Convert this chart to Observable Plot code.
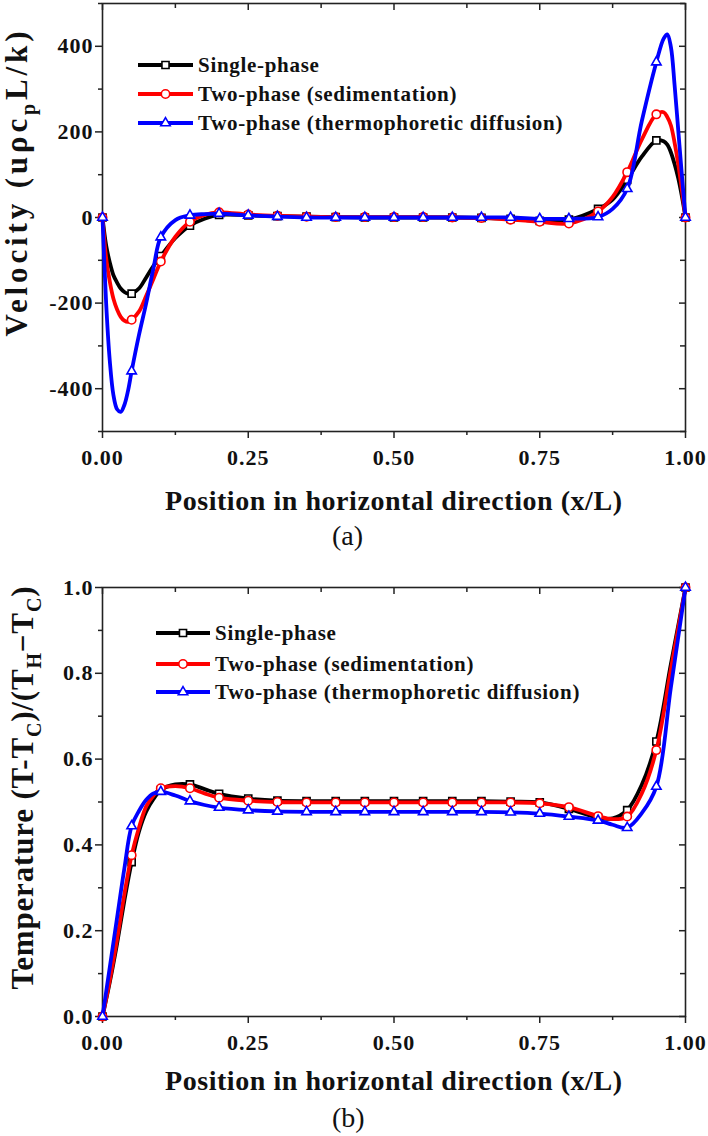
<!DOCTYPE html>
<html>
<head>
<meta charset="utf-8">
<script src="https://cdn.jsdelivr.net/npm/d3@7"></script>
<script src="https://cdn.jsdelivr.net/npm/@observablehq/plot@0.6"></script>
<style>
  html, body { margin: 0; padding: 0; background: #fff; }
  body { width: 708px; height: 1136px; overflow: hidden; font-family: "Liberation Serif", serif; color: #111; }
  .cap { font-size: 28px; font-weight: normal; white-space: nowrap; font-family: "Liberation Serif", serif; }
  svg text { font-family: "Liberation Serif", serif; }
</style>
</head>
<body>
<div id="panelA"></div>
<div class="cap" id="capA" style="height:32px;line-height:32px;padding-left:332px;">(a)</div>
<div id="panelB"></div>
<div class="cap" id="capB" style="height:36px;line-height:36px;padding-left:332px;">(b)</div>
<script>
// ---------------- data ----------------
const seriesNames = ["Single-phase", "Two-phase (sedimentation)", "Two-phase (thermophoretic diffusion)"];
const seriesColors = ["#000000", "#ff0000", "#0000ff"];
const seriesSymbols = ["square", "circle", "triangle"];

// (a) velocity profiles
const xVel = [0, 0.00625, 0.0125, 0.01875, 0.025, 0.03125, 0.0375, 0.04375, 0.05, 0.0625, 0.075, 0.0875, 0.1,
  0.125, 0.15, 0.175, 0.2, 0.25, 0.3, 0.35, 0.4, 0.45, 0.5, 0.55, 0.6, 0.65, 0.7, 0.75, 0.8, 0.85, 0.875,
  0.9, 0.925, 0.95, 0.9625, 0.96875, 0.975, 0.98125, 0.9875, 0.99375, 1.0];
const velSingle = [0, -65, -105, -135, -152, -166, -174, -178, -178, -166, -140, -113, -90,
  -48, -19, -3, 6, 5, 3, 2, 1, 0, 0, 0, 0, -1, -3, -8, -5, 20, 42,
  88, 142, 180, 178, 170, 152, 125, 92, 50, 0];
const velSed = [0, -95, -150, -190, -215, -232, -241, -244, -239, -220, -183, -143, -103,
  -45, -10, 6, 12, 7, 4, 2, 1, 1, 1, 1, 0, -1, -5, -10, -14, 14, 48,
  106, 182, 241, 246, 235, 215, 175, 125, 65, 0];
const velThermo = [0, -200, -335, -415, -448, -454, -438, -405, -359, -275, -200, -118, -46,
  -6, 5, 8, 9, 5, 2, 0, 0, 0, 0, 0, 0, 0, 0, -3, -3, 1, 20,
  67, 225, 363, 418, 428, 398, 310, 205, 100, 0];

// (b) temperature profiles
const xTemp = [0, 0.0125, 0.025, 0.0375, 0.05, 0.0625, 0.075, 0.0875, 0.1, 0.125, 0.15, 0.175, 0.2,
  0.25, 0.3, 0.35, 0.4, 0.45, 0.5, 0.55, 0.6, 0.65, 0.7, 0.75, 0.8, 0.85, 0.875, 0.9, 0.925, 0.95, 0.975, 1.0];
const tempSingle = [0, 0.08, 0.17, 0.27, 0.36, 0.431, 0.478, 0.507, 0.528, 0.541, 0.541, 0.53, 0.519,
  0.508, 0.503, 0.502, 0.502, 0.502, 0.502, 0.502, 0.502, 0.502, 0.501, 0.499, 0.484, 0.463, 0.462, 0.481, 0.54, 0.641, 0.822, 1.0];
const tempSed = [0, 0.085, 0.18, 0.285, 0.376, 0.44, 0.49, 0.515, 0.532, 0.537, 0.532, 0.52, 0.51,
  0.503, 0.5, 0.499, 0.499, 0.499, 0.499, 0.499, 0.499, 0.499, 0.499, 0.497, 0.488, 0.467, 0.46, 0.466, 0.52, 0.621, 0.81, 1.0];
const tempThermo = [0, 0.115, 0.23, 0.345, 0.444, 0.479, 0.505, 0.52, 0.524, 0.515, 0.502, 0.493, 0.487,
  0.481, 0.478, 0.477, 0.477, 0.477, 0.477, 0.477, 0.477, 0.477, 0.476, 0.473, 0.466, 0.457, 0.447, 0.44, 0.474, 0.536, 0.768, 1.0];

// ticks
const xTicks = [0, 0.25, 0.5, 0.75, 1];
const xTickLabels = ["0.00", "0.25", "0.50", "0.75", "1.00"];
const xMinorTicks = [0.125, 0.375, 0.625, 0.875];
const velTicks = [-400, -200, 0, 200, 400];
const velTickLabels = ["-400", "-200", "0", "200", "400"];
const velMinorTicks = [-500, -300, -100, 100, 300, 500];
const tempTicks = [0, 0.2, 0.4, 0.6, 0.8, 1.0];
const tempTickLabels = ["0.0", "0.2", "0.4", "0.6", "0.8", "1.0"];
const tempMinorTicks = [0.1, 0.3, 0.5, 0.7, 0.9];

const xTitle = "Position in horizontal direction (x/L)";

// ---------------- drawing ----------------
const FONT = "Liberation Serif, serif";
const AXIS = "#222";

function makePanel(cfg) {
  const W = 708, ML = 102, MR = 23;
  const innerW = W - ML - MR;
  const innerH = cfg.height - cfg.marginTop - cfg.marginBottom;
  const marks = [];
  marks.push(Plot.frame({stroke: AXIS, strokeWidth: 1.6}));
  marks.push(Plot.ruleX(xMinorTicks, {insetTop: innerH, insetBottom: -4, stroke: AXIS, strokeWidth: 1.5}));
  marks.push(Plot.ruleX(xTicks, {insetBottom: innerH - 7, stroke: AXIS, strokeWidth: 1.5}));
  marks.push(Plot.ruleX(xMinorTicks, {insetBottom: innerH - 5, stroke: AXIS, strokeWidth: 1.5}));
  marks.push(Plot.ruleY(cfg.yMinor, {insetRight: innerW, insetLeft: -4, stroke: AXIS, strokeWidth: 1.5}));
  marks.push(Plot.ruleY(cfg.yTicks, {insetLeft: innerW - 6, stroke: AXIS, strokeWidth: 1.5}));
  marks.push(Plot.ruleY(cfg.yMinor, {insetLeft: innerW - 5, stroke: AXIS, strokeWidth: 1.5}));
  marks.push(Plot.axisX({ticks: xTicks, anchor: "bottom", tickSize: 7, tickPadding: 11, strokeWidth: 1.5, stroke: AXIS,
    tickFormat: d => xTickLabels[xTicks.indexOf(d)], label: null, fill: "#111", fontFamily: FONT, fontWeight: "bold", fontSize: 22}));
  marks.push(Plot.axisY({ticks: cfg.yTicks, anchor: "left", tickSize: 7, tickPadding: 2, strokeWidth: 1.5, stroke: AXIS,
    tickFormat: d => cfg.yLabels[cfg.yTicks.indexOf(d)], label: null, fill: "#111", fontFamily: FONT, fontWeight: "bold", fontSize: 22}));
  cfg.series.forEach((vals, s) => {
    const rows = cfg.x.map((xv, i) => ({x: xv, y: vals[i]}));
    marks.push(Plot.line(rows, {x: "x", y: "y", stroke: seriesColors[s], strokeWidth: 3.8, curve: "catmull-rom"}));
    const pts = rows.filter(d => Math.abs(d.x * 20 - Math.round(d.x * 20)) < 1e-9);
    marks.push(Plot.dot(pts, {x: "x", y: "y", symbol: seriesSymbols[s], r: s === 2 ? 3.5 : (s === 1 ? 4.2 : 4),
      fill: "white", stroke: seriesColors[s], strokeWidth: 1.6}));
  });

  const svg = Plot.plot({
    width: W, height: cfg.height,
    marginTop: cfg.marginTop, marginBottom: cfg.marginBottom, marginLeft: ML, marginRight: MR,
    x: {domain: [0, 1]},
    y: {domain: cfg.yDomain},
    style: {fontFamily: FONT, fontSize: "22px", fontWeight: "bold", color: "#111", background: "white", letterSpacing: "1px", overflow: "visible"},
    marks
  });

  const g = d3.select(svg).append("g")
    .attr("font-family", FONT).attr("text-anchor", "start");
  // y title
  const yt = g.append("text")
    .attr("transform", `translate(${cfg.yTitleX},${cfg.yTitleY}) rotate(-90)`)
    .attr("text-anchor", "middle")
    .style("font-family", FONT).style("font-size", "31px").style("font-weight", "bold").style("letter-spacing", "0px")
    .attr("fill", "#111")
    .attr("textLength", cfg.yTitleLen).attr("lengthAdjust", "spacing");
  cfg.yTitleParts.forEach(p => {
    const ts = yt.append("tspan").text(p.t);
    if (p.sub) ts.style("font-size", "20px").attr("dy", 8);
    if (p.after) ts.attr("dy", -8);
  });
  // x title
  g.append("text")
    .attr("x", ML + innerW / 2).attr("y", cfg.xTitleY)
    .attr("text-anchor", "middle")
    .style("font-family", FONT).style("font-size", "28px").style("font-weight", "bold").style("letter-spacing", "0px")
    .attr("fill", "#111")
    .attr("textLength", 457).attr("lengthAdjust", "spacing")
    .text(xTitle);
  // legend
  cfg.legendRows.forEach((ry, s) => {
    g.append("line").attr("x1", cfg.legendX1).attr("x2", cfg.legendX2).attr("y1", ry).attr("y2", ry)
      .attr("stroke", seriesColors[s]).attr("stroke-width", 3.8);
    const r = s === 2 ? 3.5 : (s === 1 ? 4.2 : 4);
    const sym = [d3.symbolSquare, d3.symbolCircle, d3.symbolTriangle][s];
    g.append("path").attr("d", d3.symbol(sym, Math.PI * r * r)())
      .attr("transform", `translate(${(cfg.legendX1 + cfg.legendX2) / 2},${ry})`)
      .attr("fill", "white").attr("stroke", seriesColors[s]).attr("stroke-width", 1.6);
    g.append("text").attr("x", cfg.legendTextX).attr("y", ry).attr("dy", "0.35em")
      .attr("text-anchor", "start")
      .style("font-family", FONT).style("font-size", "21px").style("font-weight", "bold").style("letter-spacing", "0.7px")
      .attr("fill", "#111")
      .text(seriesNames[s]);
  });
  return svg;
}

const svgA = makePanel({
  height: 520, marginTop: 3, marginBottom: 89,
  x: xVel, series: [velSingle, velSed, velThermo],
  yDomain: [-500, 500], yTicks: velTicks, yLabels: velTickLabels, yMinor: velMinorTicks,
  yTitleX: 27, yTitleY: 184, yTitleLen: 305,
  yTitleParts: [{t: "Velocity (uρc"}, {t: "p", sub: true}, {t: "L/k)", after: true}],
  xTitleY: 510,
  legendRows: [65, 94, 123], legendX1: 138, legendX2: 193, legendTextX: 198
});
document.getElementById("panelA").appendChild(svgA);

const svgB = makePanel({
  height: 548, marginTop: 35, marginBottom: 84,
  x: xTemp, series: [tempSingle, tempSed, tempThermo],
  yDomain: [0, 1], yTicks: tempTicks, yLabels: tempTickLabels, yMinor: tempMinorTicks,
  yTitleX: 33, yTitleY: 236, yTitleLen: 403,
  yTitleParts: [{t: "Temperature (T-T"}, {t: "C", sub: true}, {t: ")/(T", after: true}, {t: "H", sub: true}, {t: "\u2212T", after: true}, {t: "C", sub: true}, {t: ")", after: true}],
  xTitleY: 538,
  legendRows: [81, 112, 140], legendX1: 156, legendX2: 210, legendTextX: 215
});
document.getElementById("panelB").appendChild(svgB);
</script>
</body>
</html>
